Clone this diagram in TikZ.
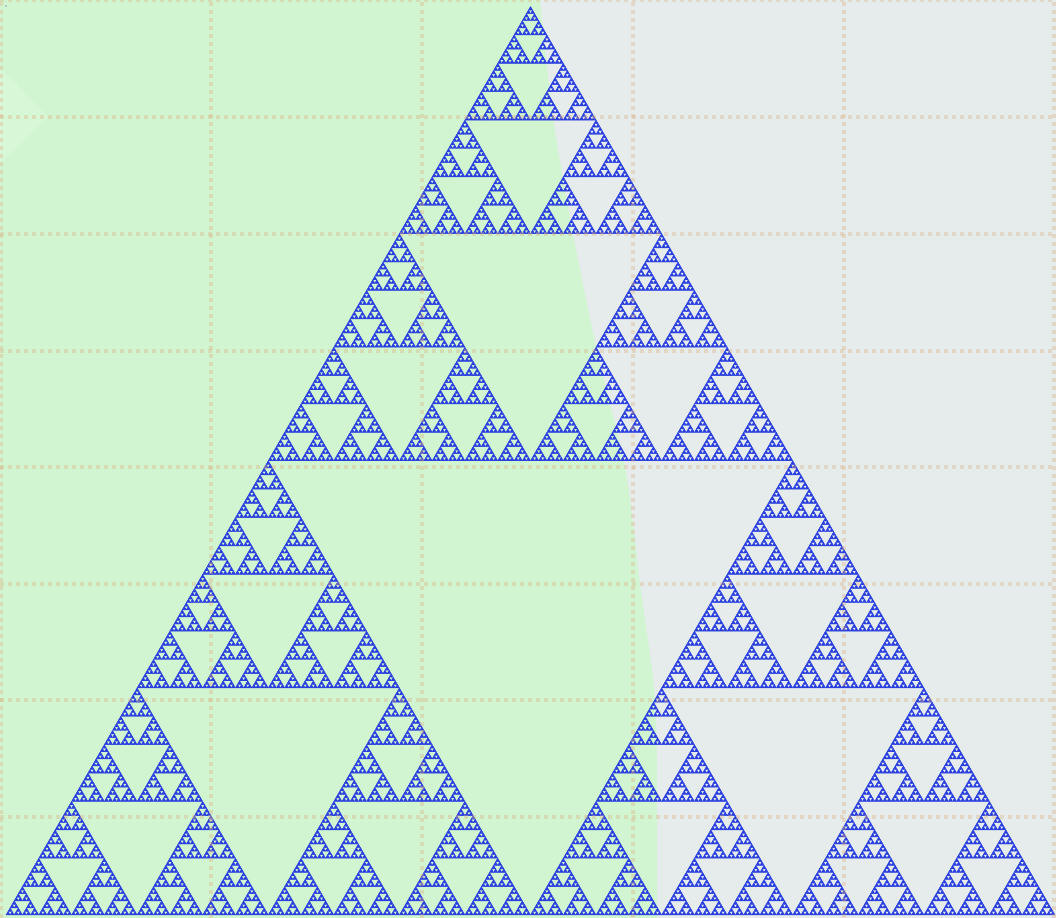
\documentclass[tikz,border=0pt]{standalone}
\usepackage{tikz}
\definecolor{leafbg}{HTML}{D1F5D1}
\definecolor{leaflight}{HTML}{D7F7D7}
\definecolor{slatebg}{HTML}{E6ECEC}
\definecolor{gridtan}{HTML}{DDB080}
\definecolor{triblue}{HTML}{2A3FE0}

% one Sierpinski level: depth, x, y (lower left), side
\newcommand\sierpin[4]{%
  \ifnum#1=0
    \filldraw[triblue,line width=0.12pt,line join=round] (#2,#3) -- ++(#4,0) -- ++(120:#4) -- cycle;
  \else
    \begingroup
      \pgfmathsetmacro\sHalf{#4/2}%
      \pgfmathsetmacro\sXb{#2+\sHalf}%
      \pgfmathsetmacro\sXc{#2+\sHalf/2}%
      \pgfmathsetmacro\sYc{#3+\sHalf*0.8660254}%
      \pgfmathtruncatemacro\sLv{#1-1}%
      \edef\sDo{%
        \noexpand\sierpin{\sLv}{#2}{#3}{\sHalf}%
        \noexpand\sierpin{\sLv}{\sXb}{#3}{\sHalf}%
        \noexpand\sierpin{\sLv}{\sXc}{\sYc}{\sHalf}}%
      \sDo
    \endgroup
  \fi}

\begin{document}
\begin{tikzpicture}[gridline/.style={draw=gridtan,draw opacity=0.35,line width=0.04cm,dash pattern=on 0.04cm off 0.04cm}]
\useasboundingbox (0,0) rectangle (10.56,9.18);
\fill[slatebg] (0,0) rectangle (10.56,9.18);
\fill[leafbg] (0,0) -- (0,9.18) -- plot[smooth] coordinates {(5.40,9.18) (5.53,8.01) (5.73,6.84) (5.97,5.67) (6.25,4.51) (6.40,3.34) (6.55,2.18) (6.57,1.00) (6.57,0)} -- cycle;
\fill[leaflight] (0,8.51) -- (0.48,8.01) -- (0,7.53) -- cycle;
\fill[triblue] (0.06,9.12) circle (0.006);

% the triangle
\sierpin{8}{0.06}{0.03}{10.49}

% dotted grid
\foreach \gx in {0.01,2.11,4.22,6.33,8.44,10.54}
  \draw[gridline] (\gx,0) -- (\gx,9.18);
\foreach \gy in {0,1.17,2.34,3.51,4.67,5.84,7.00,8.17}
  \draw[gridline] (0,9.18-\gy) -- (10.56,9.18-\gy);
\end{tikzpicture}
\end{document}
